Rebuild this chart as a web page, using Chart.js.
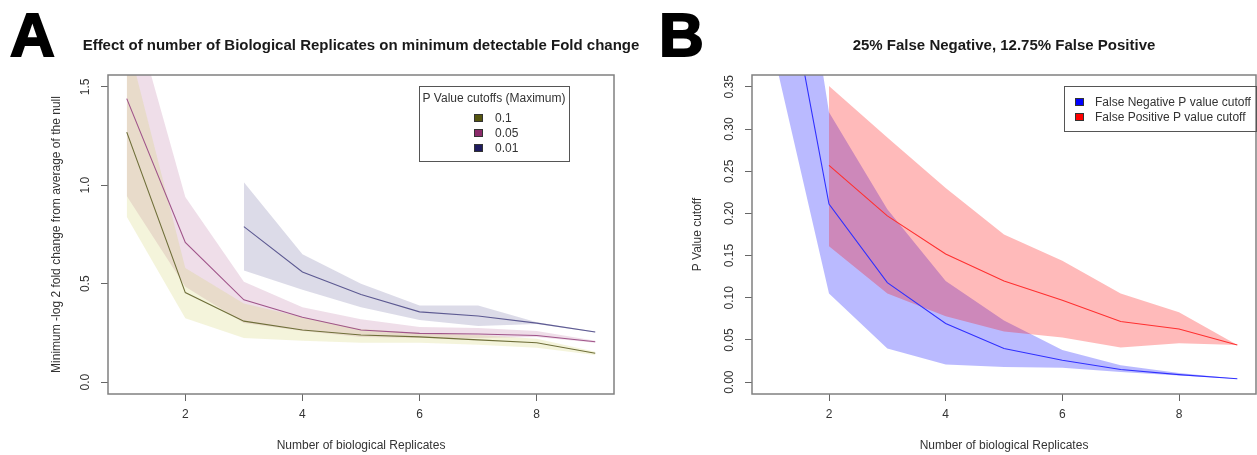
<!DOCTYPE html>
<html>
<head>
<meta charset="utf-8">
<script src="https://cdn.jsdelivr.net/npm/chart.js@4.4.0/dist/chart.umd.min.js"></script>
<style>
  html, body { margin: 0; padding: 0; background: #fff; }
  #wrap { position: relative; width: 1257px; height: 455px; overflow: hidden; }
  .panel { position: absolute; top: 0; height: 455px; }
  #panelA { left: 0; width: 640px; }
  #panelB { left: 640px; width: 617px; }
</style>
</head>
<body>
<div id="wrap">
  <div class="panel" id="panelA"><canvas id="chartA"></canvas></div>
  <div class="panel" id="panelB"><canvas id="chartB"></canvas></div>
</div>
<script>
const FONT = '"Liberation Sans", Arial, sans-serif';

// replicate counts on the x axis
const replicates = [1, 2, 3, 4, 5, 6, 7, 8, 9];
const replicatesFrom2 = [2, 3, 4, 5, 6, 7, 8, 9];
const replicatesFrom3 = [3, 4, 5, 6, 7, 8, 9];
const xTicks = [2, 4, 6, 8];

// panel A: minimum detectable fold change per p value cutoff
const cutoffLabels = ['0.1', '0.05', '0.01'];
const fc010 = [1.27, 0.455, 0.31, 0.265, 0.24, 0.23, 0.215, 0.2, 0.147];
const fc010Upper = [1.75, 0.58, 0.40, 0.33, 0.27, 0.25, 0.24, 0.22, 0.155];
const fc010Lower = [0.84, 0.325, 0.225, 0.21, 0.20, 0.20, 0.19, 0.175, 0.138];
const fc005 = [1.44, 0.71, 0.418, 0.33, 0.265, 0.248, 0.245, 0.237, 0.205];
const fc005Upper = [2.0, 0.94, 0.51, 0.38, 0.32, 0.28, 0.275, 0.26, 0.21];
const fc005Lower = [0.945, 0.485, 0.30, 0.26, 0.23, 0.225, 0.225, 0.23, 0.2];
const fc001 = [0.79, 0.56, 0.445, 0.357, 0.336, 0.30, 0.255];
const fc001Upper = [1.015, 0.65, 0.50, 0.39, 0.39, 0.305, 0.258];
const fc001Lower = [0.567, 0.47, 0.38, 0.316, 0.285, 0.295, 0.252];
const yTicksA = [0, 0.5, 1.0, 1.5];
const yTickTextA = ['0.0', '0.5', '1.0', '1.5'];

// panel B: p value cutoffs for false negatives / false positives
const rateLabels = ['False Negative P value cutoff', 'False Positive P value cutoff'];
const fnCutoff = [0.58, 0.211, 0.118, 0.0695, 0.04, 0.026, 0.015, 0.009, 0.004];
const fnUpper = [0.76, 0.32, 0.205, 0.12, 0.073, 0.038, 0.02, 0.011, 0.004];
const fnLower = [0.405, 0.105, 0.04, 0.021, 0.018, 0.017, 0.012, 0.008, 0.004];
const fpCutoff = [0.257, 0.197, 0.152, 0.12, 0.097, 0.072, 0.063, 0.044];
const fpUpper = [0.351, 0.29, 0.23, 0.175, 0.144, 0.105, 0.083, 0.044];
const fpLower = [0.161, 0.105, 0.078, 0.06, 0.053, 0.041, 0.046, 0.044];
const yTicksB = [0, 0.05, 0.10, 0.15, 0.20, 0.25, 0.30, 0.35];
const yTickTextB = ['0.00', '0.05', '0.10', '0.15', '0.20', '0.25', '0.30', '0.35'];

const pts = (xs, ys) => xs.map((x, i) => ({ x: x, y: ys[i] }));

function band(xs, upper, lower, color) {
    return [
        { data: pts(xs, upper), backgroundColor: color, borderWidth: 0, pointRadius: 0, fill: '+1' },
        { data: pts(xs, lower), borderWidth: 0, pointRadius: 0, fill: false }
    ];
}

function line(xs, ys, color) {
    return { data: pts(xs, ys), borderColor: color, borderWidth: 1.1, pointRadius: 0, fill: false, tension: 0 };
}

// box, rotated y labels, titles and the in-plot legend, base R style
const rFrame = {
    id: 'rFrame',
    afterDraw(chart, args, o) {
        const { ctx, chartArea: a, scales } = chart;
        ctx.save();
        ctx.strokeStyle = '#808080';
        ctx.lineWidth = 1.5;
        ctx.strokeRect(a.left, a.top, a.right - a.left, a.bottom - a.top);

        ctx.fillStyle = '#333';
        ctx.font = '12px ' + FONT;
        ctx.textAlign = 'center';
        ctx.textBaseline = 'middle';
        o.yTicks.forEach((v, i) => {
            const y = scales.y.getPixelForValue(v);
            ctx.save();
            ctx.translate(a.left - 22, y);
            ctx.rotate(-Math.PI / 2);
            ctx.fillText(o.yTickText[i], 0, 0);
            ctx.restore();
        });

        // axis titles
        ctx.save();
        ctx.translate(o.yTitleX, (a.top + a.bottom) / 2);
        ctx.rotate(-Math.PI / 2);
        ctx.fillText(o.yTitle, 0, 0);
        ctx.restore();
        ctx.fillText(o.xTitle, (a.left + a.right) / 2, 446);

        // main title
        ctx.fillStyle = '#1a1a1a';
        ctx.font = 'bold 15px ' + FONT;
        ctx.fillText(o.title, (a.left + a.right) / 2, 46);

        // panel letter
        ctx.fillStyle = '#000';
        ctx.strokeStyle = '#000';
        ctx.lineWidth = 2;
        ctx.font = 'bold 62px ' + FONT;
        ctx.textAlign = 'left';
        ctx.textBaseline = 'alphabetic';
        ctx.fillText(o.letter, o.letterX, 56);
        ctx.strokeText(o.letter, o.letterX, 56);

        // legend
        const L = o.legend;
        ctx.strokeStyle = '#555';
        ctx.lineWidth = 1;
        ctx.strokeRect(L.x + 0.5, L.y + 0.5, L.w, L.h);
        ctx.font = '12px ' + FONT;
        ctx.textBaseline = 'middle';
        ctx.fillStyle = '#333';
        if (L.title) {
            ctx.textAlign = 'center';
            ctx.fillText(L.title, L.x + L.w / 2, L.y + 13);
        }
        ctx.textAlign = 'left';
        L.labels.forEach((lab, i) => {
            const cy = L.y + L.firstY + i * L.step;
            ctx.fillStyle = L.colors[i];
            ctx.fillRect(L.sqX, cy - 4, 9, 8);
            ctx.strokeStyle = '#333';
            ctx.strokeRect(L.sqX + 0.5, cy - 3.5, 8, 7);
            ctx.fillStyle = '#333';
            ctx.fillText(lab, L.textX, cy + 1);
        });
        ctx.restore();
    }
};

function axes(yMin, yMax, yTicks, yWidth) {
    return {
        x: {
            type: 'linear', min: 0.68, max: 9.32,
            afterBuildTicks: s => { s.ticks = xTicks.map(v => ({ value: v })); },
            afterFit: s => { s.height = 61; },
            ticks: { color: '#333', font: { size: 12, family: FONT }, padding: 6 },
            grid: { drawOnChartArea: false, drawTicks: true, tickLength: 7, color: '#666' },
            border: { display: false }
        },
        y: {
            type: 'linear', min: yMin, max: yMax,
            afterBuildTicks: s => { s.ticks = yTicks.map(v => ({ value: v })); },
            afterFit: s => { s.width = yWidth; },
            ticks: { display: false },
            grid: { drawOnChartArea: false, drawTicks: true, tickLength: 7, color: '#666' },
            border: { display: false }
        }
    };
}

const common = {
    responsive: true,
    maintainAspectRatio: false,
    animation: false,
    events: [],
    plugins: {
        legend: { display: false },
        tooltip: { enabled: false },
        filler: { drawTime: 'beforeDatasetsDraw' }
    }
};

new Chart(document.getElementById('chartA'), {
    type: 'line',
    data: {
        datasets: [
            ...band(replicates, fc010Upper, fc010Lower, 'rgba(210,210,110,0.25)'),
            ...band(replicates, fc005Upper, fc005Lower, 'rgba(175,90,145,0.2)'),
            ...band(replicatesFrom3, fc001Upper, fc001Lower, 'rgba(80,75,140,0.2)'),
            line(replicates, fc010, '#6f6f3a'),
            line(replicates, fc005, '#a0558a'),
            line(replicatesFrom3, fc001, '#5d5a92')
        ]
    },
    options: {
        ...common,
        layout: { padding: { top: 75, left: 0, right: 26, bottom: 0 } },
        scales: axes(-0.06, 1.56, yTicksA, 108),
        plugins: {
            ...common.plugins,
            rFrame: {
                yTicks: yTicksA, yTickText: yTickTextA,
                yTitle: 'Minimum -log 2 fold change from average of the null', yTitleX: 57,
                xTitle: 'Number of biological Replicates',
                title: 'Effect of number of Biological Replicates on minimum detectable Fold change',
                letter: 'A', letterX: 10,
                legend: {
                    x: 419, y: 86, w: 150, h: 75, title: 'P Value cutoffs (Maximum)',
                    labels: cutoffLabels, colors: ['#55550f', '#8b2b6a', '#1f1b5f'],
                    sqX: 474, textX: 495, firstY: 32, step: 15
                }
            }
        }
    },
    plugins: [rFrame]
});

new Chart(document.getElementById('chartB'), {
    type: 'line',
    data: {
        datasets: [
            ...band(replicatesFrom2, fpUpper, fpLower, 'rgba(255,0,0,0.27)'),
            ...band(replicates, fnUpper, fnLower, 'rgba(0,0,255,0.27)'),
            line(replicatesFrom2, fpCutoff, '#ff3030'),
            line(replicates, fnCutoff, '#3030ff')
        ]
    },
    options: {
        ...common,
        layout: { padding: { top: 75, left: 0, right: 1, bottom: 0 } },
        scales: axes(-0.014, 0.364, yTicksB, 112),
        plugins: {
            ...common.plugins,
            rFrame: {
                yTicks: yTicksB, yTickText: yTickTextB,
                yTitle: 'P Value cutoff', yTitleX: 58,
                xTitle: 'Number of biological Replicates',
                title: '25% False Negative, 12.75% False Positive',
                letter: 'B', letterX: 19,
                legend: {
                    x: 424, y: 86, w: 192, h: 45, title: null,
                    labels: rateLabels, colors: ['#0000ff', '#ff0000'],
                    sqX: 435, textX: 455, firstY: 16, step: 15
                }
            }
        }
    },
    plugins: [rFrame]
});
</script>
</body>
</html>
